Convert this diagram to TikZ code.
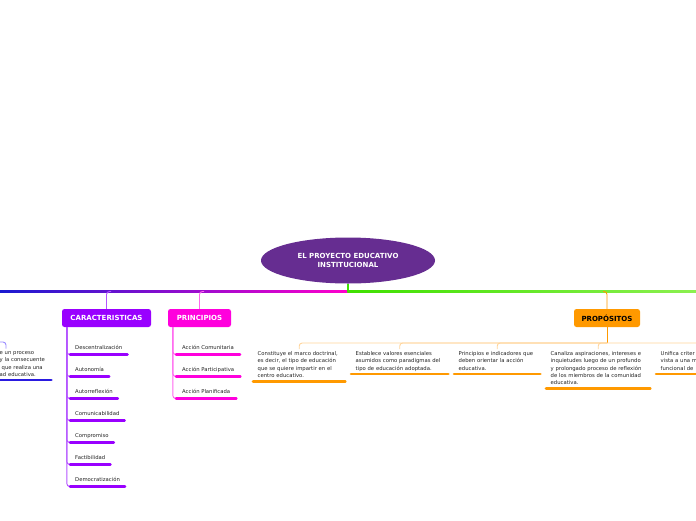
\documentclass[tikz,border=0pt]{standalone}
\usepackage{fontspec}
\setmainfont{DejaVu Sans}
\usetikzlibrary{shapes.geometric,calc}
\definecolor{rootc}{HTML}{662D91}
\definecolor{carc}{HTML}{9900FF}
\definecolor{carl}{HTML}{B455FF}
\definecolor{prc}{HTML}{FF00DD}
\definecolor{prl}{HTML}{FF66EE}
\definecolor{poc}{HTML}{FF9900}
\definecolor{pol}{HTML}{FFD49A}
\definecolor{bluec}{HTML}{2A1AE0}
\definecolor{bluel}{HTML}{9A8CFF}
\definecolor{gradl}{HTML}{1A1AD0}
\definecolor{gradm}{HTML}{9A00FF}
\definecolor{gradr}{HTML}{FF00CC}
\definecolor{greenc}{HTML}{3FE000}
\definecolor{greenr}{HTML}{8CF050}
\definecolor{txt}{HTML}{222222}
\begin{document}
\begin{tikzpicture}[x=1pt,y=-1pt,
  box/.style={rounded corners=2.5pt, minimum height=18pt, inner sep=0pt, font=\fontsize{7}{8}\selectfont\bfseries},
  leaf/.style={anchor=south west, inner xsep=5pt, inner ysep=4pt, text height=4pt, text depth=1pt, text=txt, font=\fontsize{5.3}{7}\selectfont},
  desc/.style={anchor=north west, inner xsep=4.5pt, inner ysep=2.5pt, text=txt, align=left, font=\fontsize{5.3}{7.2}\selectfont},
  uline/.style={line width=2.6pt, line cap=round},
  thinln/.style={line width=0.9pt},
]
\useasboundingbox (0,0) rectangle (696,520);

% root and main line
\node[ellipse, fill=rootc, minimum width=174pt, minimum height=46pt, inner sep=0pt, text=white, align=center, font=\fontsize{7}{8.5}\selectfont\bfseries] (root) at (348,260.5) {EL PROYECTO EDUCATIVO\\INSTITUCIONAL};

\coordinate (hub) at (348,291.5);
\coordinate (bC) at (111,291.5);
\coordinate (bP) at (204,291.5);
\coordinate (bO) at (603,291.5);

\shade[left color=gradl, middle color=gradm, right color=gradr] (0,290.9) rectangle (348,292.1);
\draw[pol, line width=0.6pt] (540,292.7) -- (bO);
\shade[left color=greenc, middle color=greenc, right color=greenr] (347.4,290.9) rectangle (697,292.1);
\draw[greenc, line width=1.2pt] (root.south) -- (hub);

% main branches
\node[box, fill=carc, text=white, minimum width=89pt] (car) at (106.5,318) {CARACTERISTICAS};
\node[box, fill=prc, text=white, minimum width=63pt] (pri) at (199.5,318) {PRINCIPIOS};
\node[box, fill=poc, text=black, minimum width=66pt] (pro) at (607,318) {PROPÓSITOS};

\draw[carl, thinln, rounded corners=3pt] (car.north) |- (bC);
\draw[prl, thinln, rounded corners=3pt] (pri.north) |- (bP);
\draw[poc, thinln, rounded corners=3pt] (pro.north) |- (bO);

% CARACTERISTICAS leaves
\coordinate (cs) at ($(car.south west)+(5,0)$);
\node[leaf] (c1) at (70,354.5) {Descentralización};
\node[leaf] (c2) at (70,376.5) {Autonomía};
\node[leaf] (c3) at (70,398.5) {Autorreflexión};
\node[leaf] (c4) at (70,420.5) {Comunicabilidad};
\node[leaf] (c5) at (70,442.5) {Compromiso};
\node[leaf] (c6) at (70,464.5) {Factibilidad};
\node[leaf] (c7) at (70,486.5) {Democratización};
\foreach \n in {c1,c2,c3,c4,c5,c6,c7} {
  \draw[carl, thinln, rounded corners=3pt] (cs) |- (\n.south west);
  \draw[uline, carc] (\n.south west) -- (\n.south east);
}

% PRINCIPIOS leaves
\coordinate (ps) at ($(pri.south west)+(5,0)$);
\node[leaf, inner xsep=6pt] (p1) at (176,354.5) {Acción Comunitaria};
\node[leaf, inner xsep=6pt] (p2) at (176,376.5) {Acción Participativa};
\node[leaf, inner xsep=6pt] (p3) at (176,398.5) {Acción Planificada};
\foreach \n in {p1,p2,p3} {
  \draw[prl, thinln, rounded corners=3pt] (ps) |- (\n.south west);
  \draw[uline, prc] (\n.south west) -- (\n.south east);
}

% PROPOSITOS children
\coordinate (pj) at (607,343);
\node[desc, text width=83pt] (d1) at (253,349) {\mbox{Constituye el marco doctrinal,}\\\mbox{es decir, el tipo de educación}\\\mbox{que se quiere impartir en el}\\\mbox{centro educativo.\rule[-1.2pt]{0pt}{1pt}}};
\node[desc, text width=88pt] (d2) at (351,349) {\mbox{Establece valores esenciales}\\\mbox{asumidos como paradigmas del}\\\mbox{tipo de educación adoptada.\rule[-1.2pt]{0pt}{1pt}}};
\node[desc, text width=77pt] (d3) at (454,349) {\mbox{Principios e indicadores que}\\\mbox{deben orientar la acción}\\\mbox{educativa.\rule[-1.2pt]{0pt}{1pt}}};
\node[desc, text width=95pt] (d4) at (546,349) {\mbox{Canaliza aspiraciones, intereses e}\\\mbox{inquietudes luego de un profundo}\\\mbox{y prolongado proceso de reflexión}\\\mbox{de los miembros de la comunidad}\\\mbox{educativa.\rule[-1.2pt]{0pt}{1pt}}};
\node[desc, text width=90pt] (d5) at (656,349) {\mbox{Unifica criter}\\\mbox{vista a una m}\\\mbox{funcional de\rule[-1.2pt]{0pt}{1pt}}};
\draw[poc, thinln] (pro.south) -- (pj);
\foreach \n in {d1,d2,d3,d4,d5} {
  \draw[pol, thinln, rounded corners=3pt] (pj) -| (\n.north);
  \draw[uline, poc] (\n.south west) -- (\n.south east);
}

% cut-off child on the left
\node[desc, text width=47pt] (d0) at (-5,349) {\mbox{e un proceso}\\\mbox{y la consecuente}\\\mbox{\hspace*{2pt}que realiza una}\\\mbox{ad educativa.\rule[-1.2pt]{0pt}{1pt}}};
\coordinate (lj) at (-2,342);
\coordinate (lt) at (6,348.5);
\draw[bluel, thinln, rounded corners=3pt] (lj) -| (lt);
\draw[uline, bluec] (d0.south west) -- (d0.south east);
\end{tikzpicture}
\end{document}
